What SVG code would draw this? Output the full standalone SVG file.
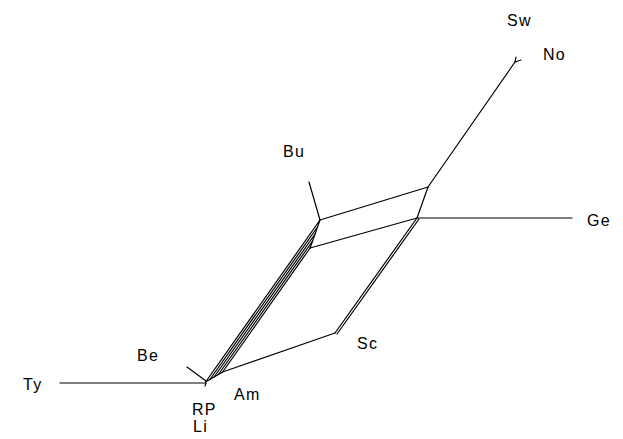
<svg xmlns="http://www.w3.org/2000/svg" width="623" height="439" viewBox="0 0 623 439">
<style>
.e{stroke:#000;stroke-width:1.2;fill:none;stroke-linecap:round}
.t{font-family:"Liberation Sans",Arial,sans-serif;font-size:16px;fill:#000;letter-spacing:1.3px}
</style>
<rect width="623" height="439" fill="#fff"/>
<g id="connectors">
<line class="e" x1="60" y1="383" x2="206" y2="383"/>
<line class="e" x1="187" y1="367" x2="206" y2="381"/>
<line class="e" x1="206" y1="383" x2="205" y2="386"/>
<line class="e" x1="205.6" y1="382" x2="320" y2="220"/>
<line class="e" x1="209.9" y1="379.5" x2="317.5" y2="227"/>
<line class="e" x1="214.1" y1="377" x2="315.1" y2="234"/>
<line class="e" x1="218.4" y1="374.5" x2="312.6" y2="241"/>
<line class="e" x1="222.6" y1="372" x2="310.1" y2="248"/>
<line class="e" x1="320" y1="220" x2="310.1" y2="248"/>
<line class="e" x1="205.6" y1="382" x2="222.6" y2="372"/>
<line class="e" x1="222.6" y1="372" x2="335" y2="333"/>
<line class="e" x1="335" y1="333" x2="417" y2="218"/>
<line class="e" x1="337" y1="334" x2="419" y2="219"/>
<line class="e" x1="310.1" y1="248" x2="417" y2="218"/>
<line class="e" x1="309" y1="182" x2="320" y2="220"/>
<line class="e" x1="320" y1="220" x2="428" y2="187" stroke-width="2"/>
<line class="e" x1="428" y1="187" x2="417" y2="218"/>
<line class="e" x1="417" y1="218" x2="572" y2="218"/>
<line class="e" x1="428" y1="187" x2="515" y2="62"/>
<line class="e" x1="515" y1="62" x2="516" y2="57"/>
<line class="e" x1="515" y1="62" x2="521" y2="60"/>
</g>
<g id="Sw"><text class="t" x="507" y="26">Sw</text></g>
<g id="No"><text class="t" x="543" y="60">No</text></g>
<g id="Bu"><text class="t" x="283" y="157">Bu</text></g>
<g id="Ge"><text class="t" x="587" y="226">Ge</text></g>
<g id="Sc"><text class="t" x="357" y="349">Sc</text></g>
<g id="Be"><text class="t" x="137" y="361">Be</text></g>
<g id="Ty"><text class="t" x="23" y="390">Ty</text></g>
<g id="Am"><text class="t" x="234" y="400">Am</text></g>
<g id="RP"><text class="t" x="192" y="415">RP</text></g>
<g id="Li"><text class="t" x="193" y="432">Li</text></g>
</svg>
